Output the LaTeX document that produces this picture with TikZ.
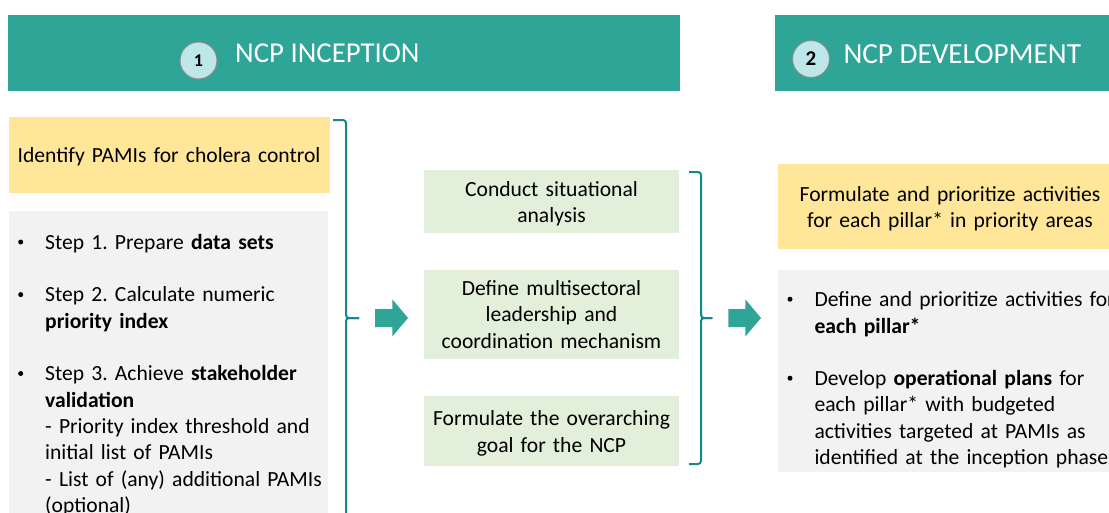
\documentclass[tikz,border=0pt]{standalone}
\usepackage{fontspec}
\setmainfont{Carlito}
\frenchspacing
\definecolor{tealhead}{RGB}{46,165,151}
\definecolor{brk}{RGB}{21,137,138}
\definecolor{circfill}{RGB}{189,231,232}
\definecolor{circline}{RGB}{140,140,140}
\definecolor{yel}{RGB}{255,230,153}
\definecolor{grn}{RGB}{226,239,218}
\definecolor{gry}{RGB}{242,242,242}
\begin{document}
\begin{tikzpicture}[x=1pt,y=-1pt,
  panel/.style={rectangle, inner sep=0pt, outer sep=0pt, anchor=north west, draw=none},
  body/.style={font=\fontsize{21.6}{26.3}\selectfont\frenchspacing, inner sep=0pt, text=black},
  lefttext/.style={body, anchor=base west, text width=420pt, align=left},
  ctext/.style={body, anchor=base, text width=330pt, align=center},
  numcirc/.style={circle, fill=circfill, draw=circline, line width=1pt, minimum size=37pt, inner sep=0pt, text=black},
  headtext/.style={anchor=base west, inner sep=0pt, text=white},
  bracket/.style={draw=brk, line width=2pt, rounded corners=3pt},
  blockarrow/.style={fill=tealhead},
  bulletdot/.style={circle, fill=black, inner sep=0pt, minimum size=5pt}
]
\useasboundingbox (0,0) rectangle (1109,512);
\clip (0,0) rectangle (1109,512);

% headers
\node[panel, fill=tealhead, minimum width=672pt, minimum height=76pt] (h1) at (8,15) {};
\node[panel, fill=tealhead, minimum width=360pt, minimum height=76pt] (h2) at (775,15) {};
\node[numcirc, font=\bfseries\fontsize{18}{20}\selectfont] (c1) at (198.5,60.5) {1};
\node[numcirc, font=\bfseries\fontsize{21}{24}\selectfont] (c2) at (811,59) {2};
\node[headtext, font=\fontsize{28.8}{34}\selectfont] (t1) at (235,62.3) {NCP INCEPTION};
\node[headtext, font=\fontsize{29.2}{34}\selectfont] (t2) at (843.3,63.3) {NCP DEVELOPMENT};

% column 1
\node[panel, fill=yel, minimum width=321pt, minimum height=76pt] (y1) at (8.5,116.7) {};
\node[ctext] (y1t) at (169,162.3) {Identify PAMIs for cholera control};
\node[panel, fill=gry, minimum width=319.5pt, minimum height=320pt] (g1) at (8.5,211) {};
\node[bulletdot] (g1b1) at (20.7,242) {};
\node[bulletdot] (g1b2) at (20.7,294.6) {};
\node[bulletdot] (g1b3) at (20.7,373.5) {};
\node[lefttext, text width=300pt] (g1t) at (45,249.3) {Step 1. Prepare \textbf{data sets}\\[26.3pt]
Step 2. Calculate numeric\\
\textbf{priority index}\\[26.3pt]
Step 3. Achieve \textbf{stakeholder}\\
\textbf{validation}\\
- Priority index threshold and\\
initial list of PAMIs\\
- List of (any) additional PAMIs\\
(optional)};

% bracket 1
\coordinate (b1top) at (333,120);
\coordinate (b1mid) at (346,318);
\coordinate (b1tip) at (359,318);
\coordinate (b1bot) at (346,540);
\draw[bracket] (b1top) -- (346,120) -- (b1mid) -- (b1tip);
\draw[bracket] (b1tip) -- (b1mid) -- (b1bot);

% arrow 1
\fill[blockarrow] (375,309) -- (392.3,309) -- (392.3,299.3) -- (408,318) -- (392.3,336.5) -- (392.3,327) -- (375,327) -- cycle;

% column 2 (green)
\node[panel, fill=grn, minimum width=254.7pt, minimum height=62.7pt] (gr1) at (424.3,170) {};
\node[ctext] (gr1t) at (551.5,196) {Conduct situational\\analysis};
\node[panel, fill=grn, minimum width=254.7pt, minimum height=89pt] (gr2) at (424.3,270) {};
\node[ctext] (gr2t) at (551.5,295.5) {Define multisectoral\\leadership and\\coordination mechanism};
\node[panel, fill=grn, minimum width=254.7pt, minimum height=70pt] (gr3) at (424.3,395.7) {};
\node[ctext] (gr3t) at (551.5,425.7) {Formulate the overarching\\goal for the NCP};

% bracket 2
\coordinate (b2top) at (689,172);
\coordinate (b2mid) at (701,318);
\coordinate (b2tip) at (712.3,318);
\coordinate (b2bot) at (689,464);
\draw[bracket] (b2top) -- (701,172) -- (b2mid) -- (b2tip);
\draw[bracket] (b2tip) -- (b2mid) -- (701,464) -- (b2bot);

% arrow 2
\fill[blockarrow] (728.3,309) -- (745.3,309) -- (745.3,299.3) -- (761,318) -- (745.3,336.5) -- (745.3,327) -- (728.3,327) -- cycle;

% column 3
\node[panel, fill=yel, minimum width=344pt, minimum height=84.7pt] (y2) at (778,164) {};
\node[ctext] (y2t) at (950,201) {Formulate and prioritize activities\\for each pillar* in priority areas};
\node[panel, fill=gry, minimum width=344pt, minimum height=201.7pt] (g2) at (778,270) {};
\node[bulletdot] (g2b1) at (790,299.2) {};
\node[bulletdot] (g2b2) at (790,378.2) {};
\node[lefttext, text width=330pt] (g2t) at (814.3,306.7) {Define and prioritize activities for\\
\textbf{each pillar*}\\[26.3pt]
Develop \textbf{operational plans} for\\
each pillar* with budgeted\\
activities targeted at PAMIs as\\
identified at the inception phase};
\end{tikzpicture}
\end{document}
